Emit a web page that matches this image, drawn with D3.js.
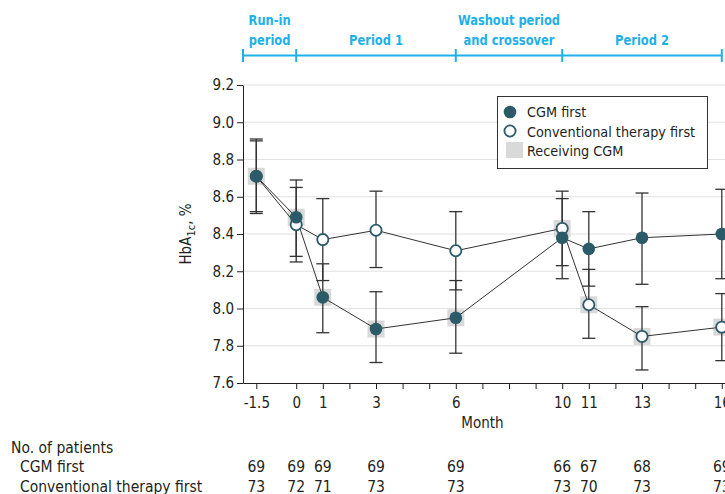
<!DOCTYPE html>
<html>
<head>
<meta charset="utf-8">
<script src="https://cdn.jsdelivr.net/npm/d3@7"></script>
<style>
  body { margin: 0; background: #fff; }
  svg text { font-family: "Liberation Sans Narrow", "DejaVu Sans Condensed", "Roboto", sans-serif; fill: #231f20; }
  .axis path, .axis line { stroke: #231f20; }
  .grid line { stroke: #e2e2e2; }
</style>
</head>
<body>
<div id="chart"></div>
<script>

// ==== Data ====
const months = [-1.5, 0, 1, 3, 6, 10, 11, 13, 16];

const cgmMean = [8.71, 8.49, 8.06, 7.89, 7.95, 8.38, 8.32, 8.38, 8.40];
const cgmLow  = [8.51, 8.28, 7.87, 7.71, 7.76, 8.16, 8.12, 8.13, 8.16];
const cgmHigh = [8.91, 8.69, 8.24, 8.09, 8.15, 8.59, 8.52, 8.62, 8.64];
const cgmOnCgm = [true, true, true, true, true, false, false, false, false];

const convMean = [8.71, 8.45, 8.37, 8.42, 8.31, 8.43, 8.02, 7.85, 7.90];
const convLow  = [8.52, 8.25, 8.15, 8.22, 8.10, 8.23, 7.84, 7.67, 7.72];
const convHigh = [8.90, 8.65, 8.59, 8.63, 8.52, 8.63, 8.21, 8.01, 8.08];
const convOnCgm = [false, false, false, false, false, true, true, true, true];

const cgmN  = [69, 69, 69, 69, 69, 66, 67, 68, 69];
const convN = [73, 72, 71, 73, 73, 73, 70, 73, 73];

const labeledTicks = [-1.5, 0, 1, 3, 6, 10, 11, 13, 16];
const yTicks = [7.6, 7.8, 8.0, 8.2, 8.4, 8.6, 8.8, 9.0, 9.2];

const periodBounds = [-2, 0, 6, 10, 16];
const periodLabels = [["Run-in", "period"], ["Period 1"], ["Washout period", "and crossover"], ["Period 2"]];

const legendItems = ["CGM first", "Conventional therapy first", "Receiving CGM"];

// ==== Setup ====
const W = 725, H = 494;
const teal = "#2b5a69";
const blue = "#1eb1e7";

const svg = d3.select("#chart").append("svg")
    .attr("width", W)
    .attr("height", H);

const xScale = d3.scaleLinear().domain([-2, 17]).range([243, 243 + 19 * 26.6]);
const yScale = d3.scaleLinear().domain([7.6, 9.2]).range([383, 85]);

const groups = [
    { name: "cgm", mean: cgmMean, low: cgmLow, high: cgmHigh, on: cgmOnCgm, filled: true },
    { name: "conv", mean: convMean, low: convLow, high: convHigh, on: convOnCgm, filled: false }
];
groups.forEach(g => {
    g.points = months.map((m, i) => ({ m, v: g.mean[i], lo: g.low[i], hi: g.high[i], on: g.on[i] }));
});

// ==== Gridlines ====
svg.append("g").attr("class", "grid")
    .selectAll("line")
    .data(yTicks.slice(1))
    .join("line")
    .attr("x1", xScale(-2))
    .attr("x2", W)
    .attr("y1", d => yScale(d))
    .attr("y2", d => yScale(d));

// ==== Axes ====
const xAxis = d3.axisBottom(xScale)
    .tickValues([-1.5].concat(d3.range(0, 17)))
    .tickSize(6)
    .tickSizeOuter(0)
    .tickFormat(d => labeledTicks.includes(d) ? String(d) : "");

const yAxis = d3.axisLeft(yScale)
    .tickValues(yTicks)
    .tickSize(6)
    .tickSizeOuter(0)
    .tickFormat(d3.format(".1f"));

svg.append("g").attr("class", "axis x-axis")
    .attr("transform", `translate(0,${yScale(7.6)})`)
    .call(xAxis)
    .call(g => g.selectAll("text").attr("font-size", 15).attr("dy", "1.05em"));

svg.append("g").attr("class", "axis y-axis")
    .attr("transform", `translate(${xScale(-2)},0)`)
    .call(yAxis)
    .call(g => g.selectAll("text").attr("font-size", 15).attr("x", -9));

svg.append("text")
    .attr("x", xScale(7))
    .attr("y", 428)
    .attr("text-anchor", "middle")
    .attr("font-size", 15)
    .text("Month");

const yLabel = svg.append("text")
    .attr("transform", `translate(191,${yScale(8.4)}) rotate(-90)`)
    .attr("text-anchor", "middle")
    .attr("font-size", 15);
yLabel.append("tspan").text("HbA");
yLabel.append("tspan").attr("font-size", 11).attr("dy", 4).text("1c");
yLabel.append("tspan").attr("dy", -4).text(", %");

// ==== Receiving CGM squares ====
const plot = svg.append("g");
groups.forEach(g => {
    plot.append("g").selectAll("rect")
        .data(g.points.filter(p => p.on))
        .join("rect")
        .attr("x", d => xScale(d.m) - 8.5)
        .attr("y", d => yScale(d.v) - 8.5)
        .attr("width", 17)
        .attr("height", 17)
        .attr("fill", "#d9d9d9");
});

// ==== Lines ====
const line = d3.line().x(d => xScale(d.m)).y(d => yScale(d.v));
groups.forEach(g => {
    plot.append("path")
        .datum(g.points)
        .attr("d", line)
        .attr("fill", "none")
        .attr("stroke", "#333")
        .attr("stroke-width", 1);
});

// ==== Error bars ====
groups.forEach(g => {
    const eb = plot.append("g").attr("stroke", "#333").attr("stroke-width", 1.3);
    eb.selectAll(".stem").data(g.points).join("line")
        .attr("x1", d => xScale(d.m)).attr("x2", d => xScale(d.m))
        .attr("y1", d => yScale(d.lo)).attr("y2", d => yScale(d.hi));
    eb.selectAll(".capHi").data(g.points).join("line")
        .attr("x1", d => xScale(d.m) - 6.5).attr("x2", d => xScale(d.m) + 6.5)
        .attr("y1", d => yScale(d.hi)).attr("y2", d => yScale(d.hi));
    eb.selectAll(".capLo").data(g.points).join("line")
        .attr("x1", d => xScale(d.m) - 6.5).attr("x2", d => xScale(d.m) + 6.5)
        .attr("y1", d => yScale(d.lo)).attr("y2", d => yScale(d.lo));
});

// ==== Markers (open first, filled on top) ====
[groups[1], groups[0]].forEach(g => {
    plot.append("g").selectAll("circle")
        .data(g.points)
        .join("circle")
        .attr("cx", d => xScale(d.m))
        .attr("cy", d => yScale(d.v))
        .attr("r", g.filled ? 6.3 : 5.6)
        .attr("fill", g.filled ? teal : "#fff")
        .attr("stroke", teal)
        .attr("stroke-width", g.filled ? 0 : 1.8);
});

// ==== Legend ====
const legend = svg.append("g");
legend.append("rect")
    .attr("x", 497.5).attr("y", 96.5)
    .attr("width", 210).attr("height", 72)
    .attr("fill", "#fff").attr("stroke", "#333").attr("stroke-width", 1);
legend.append("circle").attr("cx", 510).attr("cy", 112).attr("r", 6.3).attr("fill", teal);
legend.append("circle").attr("cx", 510).attr("cy", 131).attr("r", 5.6)
    .attr("fill", "#fff").attr("stroke", teal).attr("stroke-width", 1.8);
legend.append("rect").attr("x", 506).attr("y", 142).attr("width", 17).attr("height", 16).attr("fill", "#d9d9d9");
legend.selectAll("text.leg")
    .data(legendItems)
    .join("text")
    .attr("class", "leg")
    .attr("x", 527)
    .attr("y", (d, i) => 117 + i * 19.5)
    .attr("font-size", 14.3)
    .text(d => d);

// ==== Period bracket ====
const bracket = svg.append("g").attr("stroke", blue).attr("stroke-width", 2);
bracket.append("line")
    .attr("x1", xScale(-2)).attr("x2", xScale(16))
    .attr("y1", 55.5).attr("y2", 55.5);
bracket.selectAll(".tick").data(periodBounds).join("line")
    .attr("x1", d => xScale(d)).attr("x2", d => xScale(d))
    .attr("y1", 49).attr("y2", 62);

periodLabels.forEach((lines, i) => {
    const cx = (xScale(periodBounds[i]) + xScale(periodBounds[i + 1])) / 2;
    const startY = lines.length === 2 ? 25 : 45;
    lines.forEach((t, j) => {
        svg.append("text")
            .attr("transform", `translate(${cx},${startY + j * 20}) scale(0.88,1)`)
            .attr("text-anchor", "middle")
            .attr("font-size", 14.5)
            .attr("font-weight", "bold")
            .style("fill", blue)
            .text(t);
    });
});

// ==== Patient counts ====
const rowFont = 15.5;
svg.append("text").attr("x", 11).attr("y", 453).attr("font-size", rowFont).text("No. of patients");
svg.append("text").attr("x", 20).attr("y", 472).attr("font-size", rowFont).text("CGM first");
svg.append("text").attr("x", 20).attr("y", 492).attr("font-size", rowFont).text("Conventional therapy first");

svg.append("g").selectAll("text")
    .data(cgmN)
    .join("text")
    .attr("x", (d, i) => xScale(months[i]))
    .attr("y", 472)
    .attr("text-anchor", "middle")
    .attr("font-size", rowFont)
    .text(d => d);

svg.append("g").selectAll("text")
    .data(convN)
    .join("text")
    .attr("x", (d, i) => xScale(months[i]))
    .attr("y", 492)
    .attr("text-anchor", "middle")
    .attr("font-size", rowFont)
    .text(d => d);

</script>
</body>
</html>
